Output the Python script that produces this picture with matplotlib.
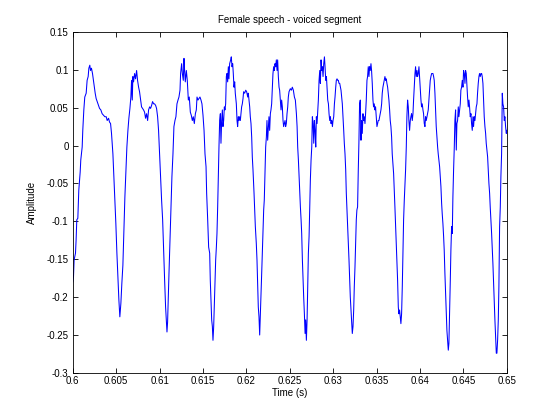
import numpy as np
import matplotlib
matplotlib.use("Agg")
import matplotlib.pyplot as plt

# time (ms) and amplitude
t_ms = [
    600.00, 600.08, 600.15, 600.31, 600.38, 600.46, 600.58, 600.69, 600.85, 600.92,
    601.00, 601.08, 601.15, 601.27, 601.38, 601.54, 601.65, 601.77, 601.85, 601.96,
    602.04, 602.15, 602.27, 602.35, 602.46, 602.58, 602.69, 602.81, 602.96, 603.08,
    603.23, 603.38, 603.54, 603.69, 603.85, 603.96, 604.12, 604.23, 604.35, 604.46,
    604.62, 604.73, 604.85, 604.96, 605.08, 605.19, 605.31, 605.42, 605.54, 605.65,
    605.77, 605.88, 606.00, 606.12, 606.23, 606.35, 606.46, 606.58, 606.69, 606.77,
    606.85, 606.92, 607.00, 607.12, 607.23, 607.35, 607.46, 607.58, 607.69, 607.81,
    607.92, 608.04, 608.15, 608.27, 608.38, 608.50, 608.62, 608.73, 608.85, 608.96,
    609.08, 609.19, 609.31, 609.42, 609.54, 609.65, 609.77, 609.88, 610.00, 610.12,
    610.23, 610.35, 610.46, 610.58, 610.69, 610.77, 610.85, 610.92, 611.00, 611.08,
    611.19, 611.31, 611.42, 611.54, 611.65, 611.77, 611.88, 612.00, 612.12, 612.23,
    612.35, 612.42, 612.54, 612.62, 612.73, 612.81, 612.88, 612.96, 613.08, 613.19,
    613.31, 613.42, 613.54, 613.65, 613.77, 613.88, 614.00, 614.12, 614.23, 614.31,
    614.42, 614.54, 614.65, 614.77, 614.88,
    615.00, 615.12, 615.23, 615.35, 615.42, 615.54, 615.65, 615.77, 615.84, 615.92,
    616.00, 616.08, 616.15, 616.23, 616.31, 616.38, 616.46, 616.54, 616.61, 616.69,
    616.77, 616.84, 616.92, 617.00, 617.07, 617.15, 617.23, 617.30, 617.38, 617.46,
    617.53, 617.61, 617.69, 617.76, 617.84, 617.92, 617.99, 618.07, 618.19, 618.26,
    618.34, 618.42, 618.49, 618.57, 618.65, 618.72, 618.84, 618.92, 618.99, 619.07,
    619.15, 619.22, 619.30, 619.38, 619.45, 619.53, 619.61, 619.68, 619.80, 619.92,
    620.03, 620.15, 620.22, 620.30, 620.38, 620.45, 620.53, 620.61, 620.68, 620.76,
    620.88, 620.95, 621.03, 621.14, 621.22, 621.30, 621.37, 621.45, 621.53, 621.60,
    621.68, 621.76, 621.83, 621.91, 621.99, 622.06, 622.14, 622.22, 622.30, 622.37,
    622.45, 622.53, 622.60, 622.68, 622.76, 622.83, 622.91, 622.99, 623.06, 623.14,
    623.22, 623.29, 623.37, 623.45, 623.53, 623.60, 623.68, 623.76, 623.83, 623.91,
    623.99, 624.06, 624.14, 624.22, 624.29, 624.37, 624.45, 624.52, 624.60, 624.68,
    624.76, 624.83, 624.91, 624.99, 625.06, 625.18, 625.29, 625.41, 625.53, 625.64,
    625.76, 625.84, 625.91, 625.99, 626.07, 626.14, 626.22, 626.30, 626.37, 626.45,
    626.53, 626.60, 626.68, 626.76, 626.83, 626.91, 626.99, 627.07, 627.14, 627.22,
    627.30, 627.37, 627.45, 627.53, 627.60, 627.68, 627.76, 627.83, 627.91, 627.99,
    628.06, 628.14, 628.22, 628.29, 628.37, 628.45, 628.52, 628.60, 628.68, 628.75,
    628.83, 628.91, 628.99, 629.06, 629.14, 629.22, 629.29, 629.37, 629.45, 629.52,
    629.60, 629.68, 629.75, 629.83, 629.91, 629.98, 630.06, 630.14, 630.21, 630.29,
    630.36, 630.44, 630.52, 630.59, 630.67, 630.75, 630.83, 630.90, 630.98, 631.05,
    631.13, 631.21, 631.28, 631.36, 631.44, 631.51, 631.59, 631.67, 631.74, 631.82,
    631.90, 631.97, 632.05, 632.13, 632.20, 632.28, 632.36, 632.43, 632.51, 632.59,
    632.66,
    632.73, 632.81, 632.89, 632.96, 633.04, 633.12, 633.20, 633.27, 633.35, 633.43,
    633.50, 633.58, 633.66, 633.73, 633.81, 633.89, 633.96, 634.04, 634.12, 634.19,
    634.27, 634.35, 634.42, 634.50, 634.58, 634.65, 634.73, 634.81, 634.88, 634.96,
    635.04, 635.12, 635.19, 635.27, 635.35, 635.42, 635.50, 635.58, 635.65, 635.73,
    635.81, 635.88, 635.96, 636.04, 636.11, 636.19, 636.27, 636.34, 636.42, 636.50,
    636.57, 636.65, 636.73, 636.80, 636.88, 636.96, 637.04, 637.11, 637.19, 637.27,
    637.34, 637.42, 637.50, 637.57, 637.65, 637.73, 637.80, 637.88, 637.96, 638.03,
    638.11, 638.19, 638.26, 638.34, 638.42, 638.49, 638.57, 638.65, 638.72, 638.80,
    638.88, 638.95, 639.03, 639.11, 639.19, 639.26, 639.34, 639.42, 639.49, 639.57,
    639.65, 639.72, 639.80, 639.88, 639.95, 640.03, 640.11, 640.18, 640.26, 640.34,
    640.41, 640.49, 640.57, 640.64, 640.72, 640.80, 640.87, 640.95, 641.03, 641.11,
    641.18, 641.26, 641.34, 641.41, 641.49, 641.57, 641.64, 641.72, 641.80, 641.87,
    641.95, 642.03, 642.10, 642.18, 642.26, 642.33, 642.41, 642.49, 642.56, 642.64,
    642.72, 642.79, 642.87, 642.95, 643.03, 643.10, 643.18, 643.26, 643.33, 643.41,
    643.49, 643.56, 643.64, 643.72, 643.79, 643.87, 643.95, 644.02, 644.10, 644.18,
    644.25, 644.33, 644.41, 644.48, 644.56, 644.64, 644.71, 644.79, 644.87, 644.95,
    645.02, 645.10, 645.18, 645.25, 645.33, 645.41, 645.48, 645.56, 645.64, 645.71,
    645.79, 645.87, 645.94, 646.02, 646.10, 646.17, 646.25, 646.33, 646.40, 646.48,
    646.56, 646.63, 646.71, 646.79, 646.86, 646.94, 647.02, 647.10, 647.17, 647.25,
    647.33, 647.40, 647.48, 647.56, 647.63, 647.71, 647.79, 647.86, 647.94, 648.02,
    648.09, 648.17, 648.25, 648.32, 648.40, 648.48, 648.55, 648.63, 648.71, 648.79,
    648.86, 648.94, 649.02, 649.09, 649.17, 649.25, 649.32, 649.40, 649.48, 649.55,
    649.63, 649.71, 649.78, 649.86, 649.94, 650.00,
]

amp = [
    -0.180, -0.173, -0.151, -0.142, -0.125, -0.098, -0.096, -0.059, -0.035, -0.019,
    -0.011, -0.002, 0.020, 0.047, 0.064, 0.069, 0.086, 0.091, 0.102, 0.106,
    0.099, 0.102, 0.095, 0.088, 0.079, 0.069, 0.062, 0.058, 0.053, 0.049,
    0.047, 0.042, 0.040, 0.038, 0.038, 0.033, 0.036, 0.031, 0.029, 0.016,
    -0.011, -0.041, -0.072, -0.103, -0.142, -0.173, -0.204, -0.226, -0.208, -0.182,
    -0.158, -0.116, -0.068, -0.032, -0.002, 0.020, 0.036, 0.049, 0.064, 0.086,
    0.060, 0.091, 0.084, 0.095, 0.088, 0.099, 0.086, 0.077, 0.071, 0.060,
    0.051, 0.049, 0.047, 0.044, 0.036, 0.042, 0.033, 0.047, 0.051, 0.049,
    0.053, 0.058, 0.055, 0.055, 0.053, 0.049, 0.038, 0.020, -0.011, -0.041,
    -0.072, -0.098, -0.138, -0.178, -0.213, -0.230, -0.246, -0.233, -0.200, -0.169,
    -0.129, -0.081, -0.041, -0.011, 0.025, 0.033, 0.038, 0.055, 0.060, 0.064,
    0.073, 0.095, 0.108, 0.095, 0.086, 0.115, 0.099, 0.084, 0.099, 0.086,
    0.060, 0.064, 0.044, 0.040, 0.033, 0.038, 0.029, 0.042, 0.047, 0.064,
    0.060, 0.062, 0.064, 0.060, 0.055,
    0.040, 0.020, -0.011, -0.028, -0.063, -0.098, -0.134, -0.142, -0.178, -0.204,
    -0.230, -0.239, -0.257, -0.239, -0.208, -0.178, -0.151, -0.134, -0.116, -0.081,
    -0.037, -0.002, 0.033, 0.042, 0.003, 0.033, 0.047, 0.025, 0.033, 0.051,
    0.047, 0.055, 0.091, 0.095, 0.084, 0.104, 0.088, 0.108, 0.113, 0.117,
    0.104, 0.108, 0.095, 0.077, 0.084, 0.069, 0.055, 0.033, 0.025, 0.038,
    0.033, 0.038, 0.033, 0.042, 0.051, 0.055, 0.062, 0.071, 0.069, 0.073,
    0.071, 0.064, 0.069, 0.060, 0.051, 0.038, 0.029, 0.011, -0.015, -0.032,
    -0.063, -0.085, -0.107, -0.129, -0.151, -0.182, -0.213, -0.226, -0.250, -0.226,
    -0.200, -0.169, -0.142, -0.116, -0.085, -0.072, -0.037, -0.002, 0.011, 0.033,
    0.007, 0.025, 0.038, 0.020, 0.042, 0.047, 0.055, 0.077, 0.095, 0.104,
    0.099, 0.108, 0.104, 0.113, 0.099, 0.113, 0.091, 0.077, 0.073, 0.060,
    0.047, 0.060, 0.051, 0.033, 0.025, 0.029, 0.033, 0.025, 0.029, 0.042,
    0.051, 0.064, 0.071, 0.073, 0.075, 0.073, 0.077, 0.073, 0.064, 0.060,
    0.042, 0.025, -0.002, -0.019, -0.041, -0.063, -0.081, -0.098, -0.116, -0.151,
    -0.178, -0.200, -0.222, -0.248, -0.230, -0.257, -0.230, -0.186, -0.142, -0.120,
    -0.081, -0.045, -0.019, -0.002, 0.038, 0.029, 0.003, 0.033, 0.020, -0.002,
    0.038, 0.029, 0.047, 0.060, 0.086, 0.099, 0.082, 0.113, 0.099, 0.104,
    0.091, 0.108, 0.117, 0.104, 0.086, 0.091, 0.077, 0.060, 0.055, 0.042,
    0.033, 0.038, 0.029, 0.033, 0.025, 0.033, 0.038, 0.055, 0.064, 0.077,
    0.086, 0.088, 0.086, 0.086, 0.082, 0.082, 0.077, 0.073, 0.064, 0.055,
    0.038, 0.020, 0.003, -0.011, -0.032, -0.063, -0.085, -0.107, -0.129, -0.151,
    -0.178, -0.200, -0.217, -0.235, -0.248, -0.239, -0.217, -0.186, -0.160, -0.129,
    -0.098,
    -0.085, -0.081, -0.032, 0.003, 0.055, 0.060, 0.007, 0.033, 0.016, 0.042,
    0.033, 0.038, 0.029, 0.042, 0.060, 0.086, 0.091, 0.104, 0.091, 0.104,
    0.099, 0.108, 0.099, 0.082, 0.060, 0.051, 0.055, 0.047, 0.051, 0.038,
    0.025, 0.029, 0.033, 0.033, 0.038, 0.042, 0.047, 0.055, 0.069, 0.077,
    0.082, 0.086, 0.091, 0.086, 0.088, 0.082, 0.077, 0.069, 0.060, 0.047,
    0.033, 0.025, 0.011, -0.011, -0.024, -0.037, -0.059, -0.081, -0.107, -0.134,
    -0.156, -0.178, -0.213, -0.222, -0.217, -0.226, -0.235, -0.222, -0.186, -0.147,
    -0.098, -0.072, -0.054, -0.032, -0.002, 0.038, 0.060, 0.051, 0.033, 0.020,
    0.033, 0.038, 0.042, 0.033, 0.042, 0.060, 0.077, 0.095, 0.104, 0.091,
    0.099, 0.091, 0.095, 0.104, 0.091, 0.077, 0.060, 0.051, 0.055, 0.047,
    0.042, 0.029, 0.025, 0.038, 0.033, 0.038, 0.042, 0.047, 0.060, 0.073,
    0.086, 0.091, 0.095, 0.095, 0.095, 0.091, 0.086, 0.069, 0.047, 0.025,
    0.011, -0.002, -0.011, -0.019, -0.028, -0.041, -0.054, -0.076, -0.090, -0.103,
    -0.120, -0.138, -0.169, -0.195, -0.222, -0.244, -0.257, -0.270, -0.261, -0.222,
    -0.178, -0.138, -0.107, -0.116, -0.068, -0.032, -0.002, 0.033, 0.047, -0.006,
    0.029, 0.033, 0.051, 0.038, 0.047, 0.055, 0.073, 0.077, 0.086, 0.077,
    0.099, 0.095, 0.082, 0.099, 0.095, 0.077, 0.064, 0.051, 0.060, 0.051,
    0.038, 0.042, 0.029, 0.020, 0.038, 0.025, 0.038, 0.033, 0.042, 0.051,
    0.055, 0.069, 0.082, 0.091, 0.095, 0.091, 0.095, 0.095, 0.091, 0.082,
    0.060, 0.038, 0.025, 0.016, 0.003, -0.006, -0.015, -0.032, -0.050, -0.063,
    -0.081, -0.098, -0.116, -0.134, -0.156, -0.182, -0.208, -0.230, -0.252, -0.274,
    -0.274, -0.257, -0.230, -0.186, -0.107, -0.081, -0.041, -0.011, 0.069, 0.055,
    0.051, 0.033, 0.038, 0.025, 0.016, 0.020,
]

x_ticks = [0.6, 0.605, 0.61, 0.615, 0.62, 0.625, 0.63, 0.635, 0.64, 0.645, 0.65]
x_labels = ["0.6", "0.605", "0.61", "0.615", "0.62", "0.625", "0.63", "0.635", "0.64", "0.645", "0.65"]
y_ticks = [-0.3, -0.25, -0.2, -0.15, -0.1, -0.05, 0, 0.05, 0.1, 0.15]
y_labels = ["-0.3", "-0.25", "-0.2", "-0.15", "-0.1", "-0.05", "0", "0.05", "0.1", "0.15"]

plt.rcParams['font.family'] = ['Liberation Sans', 'DejaVu Sans']
plt.rcParams['font.size'] = 7

t = np.array(t_ms) / 1000.0

fig = plt.figure(figsize=(5.6, 4.19), dpi=100)
ax = fig.add_axes([0.130, 0.110, 0.775, 0.814])
ax.plot(t, amp, color='#0000ff', lw=0.75)

ax.set_xlim(0.6, 0.65)
ax.set_ylim(-0.3, 0.15)
ax.set_xticks(x_ticks)
ax.set_xticklabels(x_labels)
ax.set_yticks(y_ticks)
ax.set_yticklabels(y_labels)
ax.tick_params(direction='in', length=3.6, width=0.6, top=True, right=True)
ax.tick_params(axis='x', pad=2)
ax.tick_params(axis='y', pad=3)
for s in ax.spines.values():
    s.set_linewidth(0.6)

ax.set_title('Female speech - voiced segment', fontsize=7, pad=6.5)
ax.set_xlabel('Time (s)')
ax.set_ylabel('Amplitude')
ax.xaxis.set_label_coords(0.5, -0.043)
ax.yaxis.set_label_coords(-0.082, 0.5)

fig.savefig('out.png', dpi=100, facecolor='white')
